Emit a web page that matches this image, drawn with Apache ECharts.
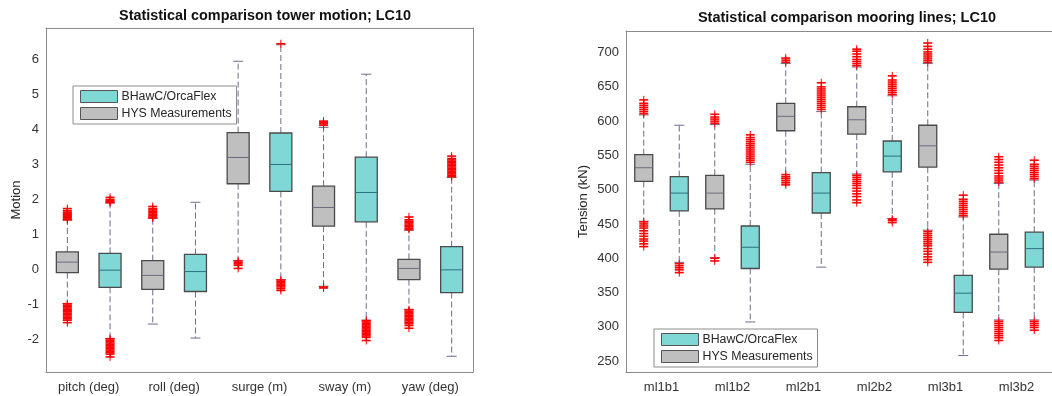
<!DOCTYPE html>
<html>
<head>
<meta charset="utf-8">
<script src="https://cdn.jsdelivr.net/npm/echarts@6/dist/echarts.min.js"></script>
<style>
  html, body { margin: 0; padding: 0; background: #fff; }
  #chart { width: 1052px; height: 396px; }
</style>
</head>
<body>
<div id="chart"></div>
<script>
// tower motion (left panel), each box = [min, q1, median, q3, max]
const motionCats = ['pitch (deg)', 'roll (deg)', 'surge (m)', 'sway (m)', 'yaw (deg)'];
const motionHys = [
  [-0.97, -0.09, 0.21, 0.50, 1.41],
  [-1.56, -0.57, -0.17, 0.25, 1.46],
  [0.26, 2.45, 3.20, 3.91, 5.95],
  [-0.48, 1.24, 1.77, 2.38, 4.06],
  [-1.14, -0.29, 0.03, 0.29, 1.12]
];
const motionBhawc = [
  [-1.97, -0.51, -0.02, 0.46, 1.90],
  [-1.96, -0.63, -0.06, 0.43, 1.92],
  [-0.29, 2.23, 3.00, 3.90, 6.42],
  [-1.45, 1.36, 2.20, 3.21, 5.58],
  [-2.48, -0.66, -0.01, 0.65, 2.63]
];
const motionHysOut = [
  [1.42, 1.46, 1.49, 1.52, 1.55, 1.58, 1.61, 1.64, 1.68, 1.74,
   -0.98, -1.02, -1.06, -1.10, -1.14, -1.18, -1.21, -1.25, -1.29, -1.33, -1.37, -1.41, -1.45, -1.52],
  [1.47, 1.50, 1.54, 1.58, 1.62, 1.66, 1.70, 1.74, 1.80],
  [0.24, 0.20, 0.16, 0.12, 0.03],
  [4.12, 4.16, 4.20, 4.24, -0.50, -0.53],
  [1.14, 1.18, 1.22, 1.26, 1.30, 1.34, 1.38, 1.42, 1.50,
   -1.15, -1.19, -1.23, -1.27, -1.31, -1.35, -1.39, -1.43, -1.47, -1.51, -1.55, -1.60, -1.68]
];
const motionBhawcOut = [
  [1.91, 1.94, 1.97, 2.00, 2.06,
   -1.98, -2.02, -2.06, -2.10, -2.14, -2.18, -2.22, -2.26, -2.30, -2.34, -2.38, -2.42, -2.50],
  [],
  [6.45, -0.30, -0.34, -0.38, -0.42, -0.46, -0.50, -0.55, -0.60],
  [-1.46, -1.50, -1.54, -1.58, -1.62, -1.66, -1.70, -1.74, -1.78, -1.82, -1.86, -1.90, -1.94, -2.03],
  [2.65, 2.69, 2.73, 2.77, 2.81, 2.85, 2.89, 2.93, 2.97, 3.01, 3.05, 3.09, 3.13, 3.17, 3.24]
];
const motionTicks = [-2, -1, 0, 1, 2, 3, 4, 5, 6];

// mooring line tension (right panel), kN
const mooringCats = ['ml1b1', 'ml1b2', 'ml2b1', 'ml2b2', 'ml3b1', 'ml3b2'];
const mooringHys = [
  [454, 512, 532, 551, 609],
  [401, 472, 495, 521, 595],
  [517, 586, 607, 626, 684],
  [523, 581, 602, 621, 679],
  [441, 533, 564, 594, 684],
  [310, 384, 409, 435, 509]
];
const mooringBhawc = [
  [394, 469, 495, 519, 594],
  [307, 385, 416, 447, 537],
  [387, 466, 495, 525, 614],
  [458, 526, 549, 571, 637],
  [258, 321, 349, 375, 460],
  [310, 387, 414, 438, 514]
];
const mooringHysOut = [
  [611, 614, 617, 620, 623, 626, 631, 453, 450, 447, 444, 440, 436, 432, 428, 425, 421, 417],
  [597, 600, 603, 606, 610, 400, 396],
  [686, 689, 692, 522, 519, 516, 513, 510, 507],
  [681, 684, 687, 690, 694, 698, 702, 705, 521, 518, 515, 512, 509, 506, 502, 498, 494, 490, 485, 481],
  [686, 689, 692, 695, 698, 701, 705, 709, 714,
   439, 436, 433, 430, 427, 424, 421, 418, 414, 410, 406, 402, 398, 394],
  [511, 514, 517, 520, 524, 528, 532, 536, 540, 544, 548, 308, 305, 302, 299, 296, 293, 290, 287, 284, 280]
];
const mooringBhawcOut = [
  [392, 389, 386, 383, 379],
  [540, 543, 546, 549, 552, 555, 558, 561, 564, 567, 570, 573, 576, 580],
  [617, 620, 623, 626, 629, 632, 635, 638, 641, 644, 647, 650, 656],
  [639, 642, 645, 648, 651, 654, 657, 660, 666, 457, 455, 452],
  [462, 465, 468, 471, 474, 477, 480, 483, 486, 492],
  [516, 519, 522, 525, 528, 531, 534, 537, 543, 308, 305, 302, 299, 295]
];
const mooringTicks = [250, 300, 350, 400, 450, 500, 550, 600, 650, 700];

const FONT = 'Liberation Sans, Arial, sans-serif';
const CYAN = '#7fd8d5';
const GRAY = '#bfbfbf';
const EDGE = '#4a4a4a';
const WHISKER = '#6f6a8f';
const NAME_B = 'BHawC/OrcaFlex';
const NAME_H = 'HYS Measurements';

const chart = echarts.init(document.getElementById('chart'), null, { renderer: 'canvas' });

function boxRender(halfW, fill, medColor) {
  return function (params, api) {
    const x = api.value(0);
    const pMin = api.coord([x, api.value(1)]);
    const pQ1 = api.coord([x, api.value(2)]);
    const pMed = api.coord([x, api.value(3)]);
    const pQ3 = api.coord([x, api.value(4)]);
    const pMax = api.coord([x, api.value(5)]);
    const cx = pMin[0];
    const dash = { stroke: WHISKER, lineWidth: 1, lineDash: [6, 3] };
    const cap = { stroke: WHISKER, lineWidth: 1 };
    return {
      type: 'group',
      children: [
        { type: 'line', shape: { x1: cx, y1: pQ3[1], x2: cx, y2: pMax[1] }, style: dash },
        { type: 'line', shape: { x1: cx, y1: pQ1[1], x2: cx, y2: pMin[1] }, style: dash },
        { type: 'line', shape: { x1: cx - 5, y1: pMax[1], x2: cx + 5, y2: pMax[1] }, style: cap },
        { type: 'line', shape: { x1: cx - 5, y1: pMin[1], x2: cx + 5, y2: pMin[1] }, style: cap },
        { type: 'rect', shape: { x: cx - halfW, y: pQ3[1], width: halfW * 2, height: pQ1[1] - pQ3[1] },
          style: { fill: fill, stroke: EDGE, lineWidth: 1.3 } },
        { type: 'line', shape: { x1: cx - halfW, y1: pMed[1], x2: cx + halfW, y2: pMed[1] },
          style: { stroke: medColor, lineWidth: 1 } }
      ]
    };
  };
}

function outRender(params, api) {
  const p = api.coord([api.value(0), api.value(1)]);
  const st = { stroke: '#ff0000', lineWidth: 1.6 };
  return {
    type: 'group',
    children: [
      { type: 'line', shape: { x1: p[0] - 4.5, y1: p[1], x2: p[0] + 4.5, y2: p[1] }, style: st },
      { type: 'line', shape: { x1: p[0], y1: p[1] - 4, x2: p[0], y2: p[1] + 4 }, style: { stroke: '#ff0000', lineWidth: 1 } }
    ]
  };
}

function boxSeries(name, stats, offset, axisIdx, yIdx, halfW, fill, medColor) {
  return {
    type: 'custom', name: name, xAxisIndex: axisIdx, yAxisIndex: yIdx,
    itemStyle: { color: fill },
    renderItem: boxRender(halfW, fill, medColor),
    encode: { x: 0, y: [1, 2, 3, 4, 5] },
    data: stats.map((s, i) => [2 * i + offset].concat(s)),
    z: 2
  };
}

function outSeries(outs, offset, axisIdx, yIdx) {
  const data = [];
  outs.forEach((list, i) => list.forEach(v => data.push([2 * i + offset, v])));
  return {
    type: 'custom', xAxisIndex: axisIdx, yAxisIndex: yIdx,
    renderItem: outRender, encode: { x: 0, y: 1 }, data: data, z: 3
  };
}

function boxCats(cats) {
  const out = [];
  cats.forEach((c, i) => { out.push(c + ' H'); out.push(c + ' B'); });
  return out;
}

const frameLine = { show: true, onZero: false, lineStyle: { color: '#8a8a8a', width: 1 } };
const labelStyle = { color: '#333', fontSize: 13, fontFamily: FONT };

function xAxes(cats, gridIdx) {
  return [
    { type: 'category', gridIndex: gridIdx, position: 'bottom', data: boxCats(cats),
      axisLine: frameLine, axisTick: { inside: true, alignWithLabel: true, length: 4, lineStyle: { color: '#8a8a8a' } },
      axisLabel: { show: false }, splitLine: { show: false } },
    { type: 'category', gridIndex: gridIdx, position: 'bottom', data: cats,
      axisLine: { show: false }, axisTick: { show: false },
      axisLabel: Object.assign({ margin: 9 }, labelStyle), splitLine: { show: false } },
    { type: 'category', gridIndex: gridIdx, position: 'top', data: boxCats(cats),
      axisLine: frameLine, axisTick: { inside: true, alignWithLabel: true, length: 4, lineStyle: { color: '#8a8a8a' } },
      axisLabel: { show: false }, splitLine: { show: false } }
  ];
}

function yAxes(min, max, ticks, name, nameGap, gridIdx) {
  return [
    { type: 'value', gridIndex: gridIdx, position: 'left', min: min, max: max,
      name: name, nameLocation: 'middle', nameGap: nameGap,
      nameTextStyle: { color: '#262626', fontSize: 13, fontFamily: FONT },
      axisLine: frameLine,
      axisTick: { inside: true, length: 4, customValues: ticks, lineStyle: { color: '#8a8a8a' } },
      axisLabel: Object.assign({ customValues: ticks, margin: 7 }, labelStyle),
      splitLine: { show: false } },
    { type: 'value', gridIndex: gridIdx, position: 'right', min: min, max: max,
      axisLine: frameLine,
      axisTick: { inside: true, length: 4, customValues: ticks, lineStyle: { color: '#8a8a8a' } },
      axisLabel: { show: false }, splitLine: { show: false } }
  ];
}

function legendFor(left, top) {
  return {
    left: left, top: top, orient: 'vertical',
    itemWidth: 37, itemHeight: 12, itemGap: 4,
    padding: [4, 5, 4, 7],
    borderColor: '#8c8c8c', borderWidth: 1, borderRadius: 0, backgroundColor: '#fff',
    textStyle: { color: '#262626', fontSize: 12.3, fontFamily: FONT, padding: [0, 0, 0, -1] },
    selectedMode: false,
    data: [
      { name: NAME_B, icon: 'rect', itemStyle: { color: CYAN, borderColor: '#555', borderWidth: 1 } },
      { name: NAME_H, icon: 'rect', itemStyle: { color: GRAY, borderColor: '#555', borderWidth: 1 } }
    ]
  };
}

const option = {
  animation: false,
  backgroundColor: '#fff',
  title: [
    { text: 'Statistical comparison tower motion; LC10', left: 260, top: 4, textAlign: 'center',
      textStyle: { fontSize: 14.4, fontWeight: 'bold', color: '#111', fontFamily: FONT } },
    { text: 'Statistical comparison mooring lines; LC10', left: 842, top: 5, textAlign: 'center',
      textStyle: { fontSize: 14.5, fontWeight: 'bold', color: '#111', fontFamily: FONT } }
  ],
  legend: [legendFor(73, 86), legendFor(654, 329)],
  grid: [
    { left: 46, right: 579, top: 28, bottom: 24 },
    { left: 626, right: -6, top: 31, bottom: 24 }
  ],
  xAxis: xAxes(motionCats, 0).concat(xAxes(mooringCats, 1)),
  yAxis: yAxes(-2.93, 6.9, motionTicks, 'Motion', 23, 0)
    .concat(yAxes(234, 731.5, mooringTicks, 'Tension (kN)', 36, 1)),
  series: [
    boxSeries(NAME_H, motionHys, 0, 0, 0, 11, GRAY, '#6b6b80'),
    boxSeries(NAME_B, motionBhawc, 1, 0, 0, 11, CYAN, '#2f6f7f'),
    outSeries(motionHysOut, 0, 0, 0),
    outSeries(motionBhawcOut, 1, 0, 0),
    boxSeries(NAME_H, mooringHys, 0, 3, 2, 9, GRAY, '#6b6b80'),
    boxSeries(NAME_B, mooringBhawc, 1, 3, 2, 9, CYAN, '#2f6f7f'),
    outSeries(mooringHysOut, 0, 3, 2),
    outSeries(mooringBhawcOut, 1, 3, 2)
  ]
};

chart.setOption(option);
</script>
</body>
</html>
